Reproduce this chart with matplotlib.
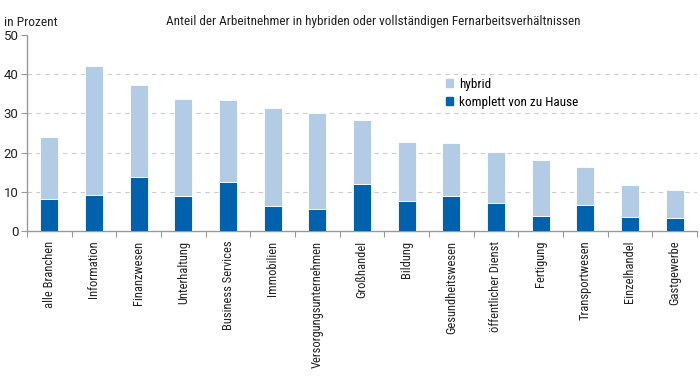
import matplotlib
matplotlib.use("Agg")
import matplotlib.pyplot as plt
from matplotlib.patches import Patch
import numpy as np

categories = ["alle Branchen", "Information", "Finanzwesen", "Unterhaltung",
              "Business Services", "Immobilien", "Versorgungsunternehmen",
              "Großhandel", "Bildung", "Gesundheitswesen", "öffentlicher Dienst",
              "Fertigung", "Transportwesen", "Einzelhandel", "Gastgewerbe"]
total = [23.9, 42.0, 37.3, 33.8, 33.3, 31.3, 30.1, 28.4, 22.8, 22.4, 20.2, 18.1, 16.4, 11.8, 10.4]
komplett = [8.1, 9.1, 13.7, 8.9, 12.5, 6.4, 5.7, 12.0, 7.7, 8.9, 7.2, 3.7, 6.6, 3.6, 3.4]
hybrid = [t - k for t, k in zip(total, komplett)]
yticks = [0, 10, 20, 30, 40, 50]

light = "#b3cce6"
dark = "#0062ad"
cond = ["Roboto Condensed", "Roboto", "DejaVu Sans"]
rob = ["Roboto", "DejaVu Sans"]

fig = plt.figure(figsize=(7, 3.79), dpi=100)
ax = fig.add_axes([27/700, 1-231/379, 670/700, 196/379])
x = np.arange(len(categories))
ax.bar(x, komplett, width=0.4, color=dark, edgecolor="white", linewidth=0.6, zorder=3)
ax.bar(x, hybrid, bottom=komplett, width=0.4, color=light, edgecolor="white", linewidth=0.6, zorder=3)

ax.set_xlim(-0.5, len(categories) - 0.5)
ax.set_ylim(0, 50)
ax.set_yticks(yticks)
ax.set_yticklabels([str(v) for v in yticks], fontfamily=rob, fontsize=9.5, color="#222222")
for v in yticks[1:-1]:
    ax.axhline(v, color="#cccccc", lw=0.8, ls=(0, (4, 4)), zorder=1)

ax.set_xticks(x)
ax.set_xticklabels(categories, rotation=90, fontfamily=cond, fontsize=9.0, color="#222222")
ax.tick_params(axis="x", length=0, pad=7)
ax.set_xticks(np.arange(-0.5, len(categories)), minor=True)
ax.tick_params(axis="x", which="minor", length=4, color="#999999", width=0.8)
ax.tick_params(axis="y", length=4, color="#999999", width=0.8, pad=2)

for s in ["top", "right"]:
    ax.spines[s].set_visible(False)
for s in ["left", "bottom"]:
    ax.spines[s].set_color("#999999")
    ax.spines[s].set_linewidth(1.0)

fig.text(4/700, 1-22/379, "in Prozent", fontfamily=cond, fontsize=9.6, color="#222222", va="center", ha="left")
fig.text(373.5/700, 1-22/379, "Anteil der Arbeitnehmer in hybriden oder vollständigen Fernarbeitsverhältnissen",
         fontfamily=cond, fontsize=9.5, color="#222222", va="center", ha="center")

handles = [Patch(color=light, label="hybrid"), Patch(color=dark, label="komplett von zu Hause")]
leg = fig.legend(handles=handles, loc="upper left", bbox_to_anchor=(446/700, 1-78/379),
                 frameon=False, prop={"family": cond, "size": 9.5}, handlelength=0.55,
                 handleheight=0.55, handletextpad=0.45, labelspacing=0.35, borderaxespad=0, borderpad=0)

fig.savefig("out.png", dpi=100)
